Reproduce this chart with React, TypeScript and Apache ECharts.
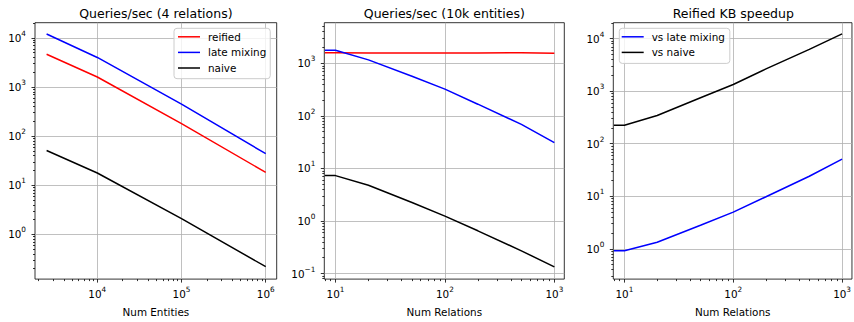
import React, { useEffect, useRef } from 'react';
import * as echarts from 'echarts';

// Panel 1: Queries/sec (4 relations)
const entities = [2500, 10000, 100000, 1000000];
const reified4 = [4650, 1600, 180, 18.3];
const lateMixing4 = [12000, 4000, 450, 44];
const naive4 = [51, 17.8, 2.1, 0.22];

// Panel 2: Queries/sec (10k entities)
const relations = [8, 10, 20, 50, 100, 200, 500, 1000];
const reified10k = [1600, 1600, 1570, 1575, 1575, 1580, 1585, 1550];
const lateMixing10k = [1770, 1770, 1166, 570, 323, 167, 69, 31];
const naive10k = [7.3, 7.3, 4.8, 2.25, 1.24, 0.65, 0.27, 0.134];

// Panel 3: Reified KB speedup
const speedupVsLate = [0.92, 0.92, 1.33, 2.8, 5.0, 9.8, 24, 51];
const speedupVsNaive = [225, 225, 345, 750, 1340, 2650, 6250, 12300];

const titles = ['Queries/sec (4 relations)', 'Queries/sec (10k entities)', 'Reified KB speedup'];
const xNames = ['Num Entities', 'Num Relations', 'Num Relations'];
const legend1 = ['reified', 'late mixing', 'naive'];
const legend3 = ['vs late mixing', 'vs naive'];

const FONT = 'DejaVu Sans';
const FS = 10.4;
const RED = '#ff0000';
const BLUE = '#0000ff';
const BLACK = '#000000';

const GRIDS = [
  { left: 35, top: 22.7, width: 241.7, height: 262.3 },
  { left: 324.3, top: 22.7, width: 240, height: 262.3 },
  { left: 613.3, top: 22.7, width: 240, height: 262.3 },
];
const XR = [
  [1820, 1350000],
  [7.9, 1233],
  [7.9, 1233],
];
const YR = [
  [0.123, 20400],
  [0.0783, 5940],
  [0.265, 20100],
];

function decades(min: number, max: number) {
  const out: number[] = [];
  for (let e = Math.ceil(Math.log10(min) - 1e-9); e <= Math.floor(Math.log10(max) + 1e-9); e++) out.push(Math.pow(10, e));
  return out;
}
function minors(min: number, max: number) {
  const out: number[] = [];
  for (let e = Math.floor(Math.log10(min)); e <= Math.floor(Math.log10(max)); e++) {
    for (let k = 2; k <= 9; k++) {
      const v = k * Math.pow(10, e);
      if (v >= min && v <= max) out.push(v);
    }
  }
  return out;
}

const rich = {
  b: { fontSize: FS, fontFamily: FONT, color: '#000', lineHeight: 12 },
  s: { fontSize: 7.3, fontFamily: FONT, color: '#000', lineHeight: 8, padding: [0, 0, 9, 0] },
};
const fmt = (v: number) => {
  const e = Math.round(Math.log10(v));
  return `{b|10}{s|${e < 0 ? '\u2212' + -e : e}}`;
};

function mainAxis(i: number, range: number[], isX: boolean) {
  const majors = decades(range[0], range[1]);
  const ax: any = {
    type: 'log',
    logBase: 10,
    gridIndex: i,
    min: range[0],
    max: range[1],
    position: isX ? 'bottom' : 'left',
    axisLine: { show: false, onZero: false },
    axisTick: { show: true, inside: false, length: 3.5, lineStyle: { color: '#000', width: 0.8 }, customValues: majors },
    axisLabel: { show: true, customValues: majors, formatter: fmt, rich, margin: isX ? 9 : 9 },
    splitLine: { show: true, lineStyle: { color: '#b0b0b0', width: 0.8 } },
    minorTick: { show: false },
    minorSplitLine: { show: false },
  };
  if (isX) {
    ax.name = xNames[i];
    ax.nameLocation = 'middle';
    ax.nameGap = 23;
    ax.nameTextStyle = { fontSize: FS, fontFamily: FONT, color: '#000', verticalAlign: 'top' };
  }
  return ax;
}
// tick-only companion axis (exponent space) for the minor ticks at 2..9 x 10^n
function minorAxis(i: number, range: number[], isX: boolean) {
  const lo = Math.log10(range[0]);
  const hi = Math.log10(range[1]);
  return {
    type: 'value',
    gridIndex: i,
    min: lo,
    max: hi,
    position: isX ? 'bottom' : 'left',
    axisLine: { show: false, onZero: false },
    axisTick: { show: true, inside: false, length: 2, lineStyle: { color: '#000', width: 0.8 }, customValues: minors(range[0], range[1]).map((v) => Math.log10(v)) },
    axisLabel: { show: false },
    splitLine: { show: false },
    minorTick: { show: false },
  };
}

function line(name: string, color: string, i: number, xs: number[], ys: number[]) {
  return {
    type: 'line',
    name,
    xAxisIndex: 2 * i,
    yAxisIndex: 2 * i,
    data: xs.map((x, k) => [x, ys[k]]),
    showSymbol: false,
    symbol: 'none',
    color,
    itemStyle: { color },
    lineStyle: { color, width: 1.5 },
    clip: true,
  };
}

const legendCommon = {
  orient: 'vertical',
  icon: 'rect',
  itemWidth: 22,
  itemHeight: 1.5,
  itemGap: 3.6,
  backgroundColor: 'rgba(255,255,255,0.8)',
  borderColor: '#cccccc',
  borderWidth: 1,
  borderRadius: 3,
  selectedMode: false,
  textStyle: { fontSize: FS, fontFamily: FONT, color: '#000', lineHeight: 12, padding: [0, 0, 0, 3] },
};

export default function App() {
  const ref = useRef<HTMLDivElement>(null);
  useEffect(() => {
    if (!ref.current) return;
    const chart = echarts.init(ref.current, undefined, { renderer: 'svg' });
    const xAxis: any[] = [];
    const yAxis: any[] = [];
    for (let i = 0; i < 3; i++) {
      xAxis.push(mainAxis(i, XR[i], true), minorAxis(i, XR[i], true));
      yAxis.push(mainAxis(i, YR[i], false), minorAxis(i, YR[i], false));
    }
    const option: any = {
      animation: false,
      textStyle: { fontFamily: FONT },
      title: titles.map((t, i) => ({
        text: t,
        left: GRIDS[i].left + GRIDS[i].width / 2,
        top: 6.5,
        textAlign: 'center',
        padding: 0,
        textStyle: { fontSize: 12.5, fontFamily: FONT, fontWeight: 'normal', color: '#000' },
      })),
      grid: GRIDS.map((g) => ({ ...g, show: true, borderColor: '#000', borderWidth: 0.8, backgroundColor: 'transparent', containLabel: false })),
      legend: [
        { ...legendCommon, data: legend1, left: 174, top: 28.3, padding: [2.5, 4, 4.7, 4] },
        { ...legendCommon, data: legend3, left: 619.3, top: 28.3, padding: [2.5, 5, 5, 2.4] },
      ],
      xAxis,
      yAxis,
      series: [
        line('reified', RED, 0, entities, reified4),
        line('late mixing', BLUE, 0, entities, lateMixing4),
        line('naive', BLACK, 0, entities, naive4),
        line('reified', RED, 1, relations, reified10k),
        line('late mixing', BLUE, 1, relations, lateMixing10k),
        line('naive', BLACK, 1, relations, naive10k),
        line('vs late mixing', BLUE, 2, relations, speedupVsLate),
        line('vs naive', BLACK, 2, relations, speedupVsNaive),
      ],
    };
    chart.setOption(option);
    return () => chart.dispose();
  }, []);
  return <div ref={ref} style={{ position: 'absolute', left: 0, top: 0, width: 854, height: 322 }} />;
}
